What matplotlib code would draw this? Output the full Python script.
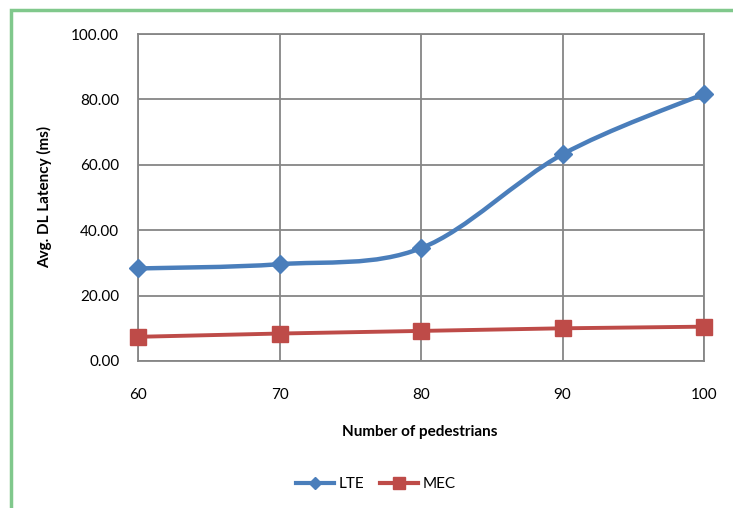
import matplotlib
matplotlib.use("Agg")
import matplotlib.pyplot as plt
from matplotlib.path import Path
from matplotlib.patches import PathPatch, Rectangle
from matplotlib.lines import Line2D
import numpy as np

pedestrians = [60, 70, 80, 90, 100]
lte = [28.3, 29.6, 34.5, 63.2, 81.7]
mec = [7.4, 8.4, 9.2, 10.0, 10.5]
y_ticks = [0, 20, 40, 60, 80, 100]

FONT = ['Lato', 'DejaVu Sans']
plt.rcParams['font.family'] = FONT

fig = plt.figure(figsize=(7.33, 5.08), dpi=100)
W, H = 733, 508
ax = fig.add_axes([138 / W, 1 - 361 / H, (704 - 138) / W, (361 - 34) / H])

grid_c = '#868686'


def smooth_path(xs, ys):
    xs = np.asarray(xs, float)
    ys = np.asarray(ys, float)
    n = len(xs)
    verts = [(xs[0], ys[0])]
    codes = [Path.MOVETO]
    for i in range(n - 1):
        i0 = max(i - 1, 0)
        i3 = min(i + 2, n - 1)
        c1 = (xs[i] + (xs[i + 1] - xs[i0]) / 6, ys[i] + (ys[i + 1] - ys[i0]) / 6)
        c2 = (xs[i + 1] - (xs[i3] - xs[i]) / 6, ys[i + 1] - (ys[i3] - ys[i]) / 6)
        verts += [c1, c2, (xs[i + 1], ys[i + 1])]
        codes += [Path.CURVE4] * 3
    return Path(verts, codes)


blue = '#4a7ebb'
red = '#be4b48'

ax.add_patch(PathPatch(smooth_path(pedestrians, lte), fill=False, edgecolor=blue,
                       lw=3.2, zorder=3, capstyle='round'))
ax.plot(pedestrians, lte, ls='none', marker='D', ms=9, color=blue, zorder=4, clip_on=False)
ax.plot(pedestrians, mec, color=red, lw=2.8, zorder=3)
ax.plot(pedestrians, mec, ls='none', marker='s', ms=11, color=red, zorder=4, clip_on=False)

ax.set_xlim(60, 100)
ax.set_ylim(0, 100)
ax.set_xticks(pedestrians)
ax.set_yticks(y_ticks)
ax.set_yticklabels([f"{v:.2f}" for v in y_ticks])
ax.grid(True, color=grid_c, lw=1.3)
ax.set_axisbelow(True)
for s in ax.spines.values():
    s.set_color(grid_c)
    s.set_linewidth(1.3)
ax.tick_params(length=0, labelsize=11, colors='black')
ax.tick_params(axis='y', pad=13.5)
ax.tick_params(axis='x', pad=19.5)

fig.text(420 / W, 1 - 432 / H, 'Number of pedestrians', ha='center', va='center',
         fontsize=11, fontweight='bold')
fig.text(45 / W, 1 - 197 / H, 'Avg. DL Latency (ms)', ha='center', va='center',
         rotation=90, fontsize=11, fontweight='bold')

handles = [Line2D([], [], color=blue, lw=3, marker='D', ms=6),
           Line2D([], [], color=red, lw=3, marker='s', ms=8)]
fig.legend(handles, ['LTE', 'MEC'], loc='center', bbox_to_anchor=(376 / W, 1 - 484 / H),
           ncol=2, frameon=False, fontsize=11, handlelength=2.5, handletextpad=0.3,
           columnspacing=1.0)

fig.patches.append(Rectangle((11 / W, -0.5), 3.0, 1 - 10 / H + 0.5, transform=fig.transFigure,
                             fill=False, edgecolor='#80c88c', lw=2.5))

fig.savefig('out.png', dpi=100)
